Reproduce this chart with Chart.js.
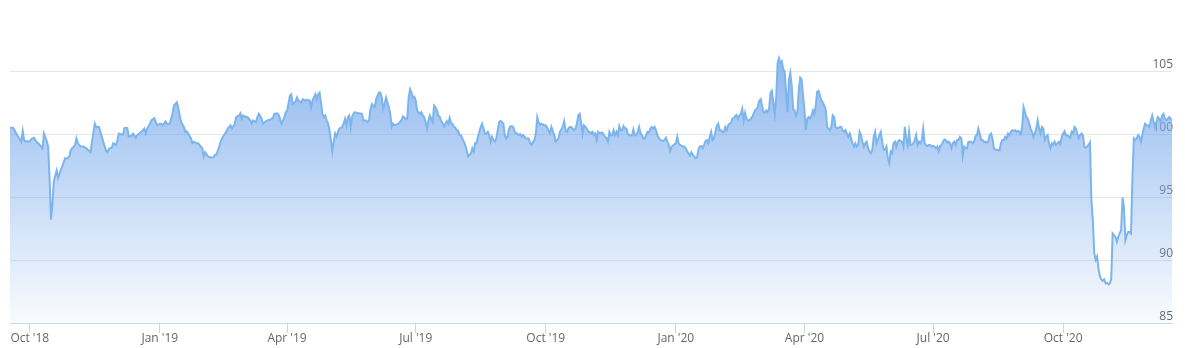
<!DOCTYPE html>
<html>
<head>
<meta charset="utf-8">
<script src="https://cdn.jsdelivr.net/npm/chart.js@4.4.1/dist/chart.umd.min.js"></script>
<style>
    html, body { margin: 0; padding: 0; background: #ffffff; }
    #wrap { width: 1185px; height: 348px; }
</style>
</head>
<body>
<div id="wrap"><canvas id="priceChart" width="1185" height="348"></canvas></div>
<script>
// Day offsets are counted from this date
const startDate = '2018-09-17';

const dayOffsets = [
    0,2,3,5,7,8,9,10,11,12,14,15,17,19,20,22,23,24,26,27,28,29,30,31,33,34,36,37,39,40,42,43,46,47,48,50,52,54,55,57,58,60,61,63,64,66,68,69,70,72,73,75,76,77,79,80,81,83,84,86,87,89,90,
    93,95,96,97,99,100,102,103,104,106,107,108,110,111,113,114,115,116,117,118,119,120,121,123,124,125,126,128,129,130,132,133,134,136,137,138,140,142,144,145,146,148,149,150,152,153,154,156,157,159,160,162,163,164,165,167,168,170,171,172,174,175,176,178,179,181,182,
    184,186,187,189,190,191,192,194,195,196,198,199,200,202,203,204,206,207,209,210,212,213,214,216,217,218,219,220,221,222,223,224,225,226,227,228,229,230,231,232,233,235,236,237,238,239,240,241,242,243,244,246,247,249,250,252,253,254,255,256,258,259,261,262,263,264,265,266,267,268,269,270,271,272,273,275,
    277,278,280,281,282,283,284,285,286,287,288,290,291,292,293,294,295,296,297,298,299,300,301,302,303,304,305,306,307,308,309,310,311,312,313,314,315,316,317,318,319,320,321,322,323,324,325,326,327,328,329,330,331,332,333,334,335,336,337,338,339,340,341,342,343,344,345,346,347,348,349,350,351,352,353,354,355,356,357,358,359,360,361,362,363,364,365,367,
    368,369,370,371,372,373,374,375,376,378,379,381,382,383,385,386,388,389,391,392,393,394,395,396,397,399,400,401,402,403,404,405,406,407,408,409,410,411,412,413,414,415,416,417,419,420,422,423,424,425,426,427,428,429,430,431,432,433,434,435,436,437,438,439,440,441,442,443,444,445,446,447,448,449,450,451,452,453,454,455,456,457,458,459,
    460,462,463,464,465,466,467,468,470,471,472,473,474,476,477,478,479,480,481,482,483,484,485,486,487,488,489,490,491,492,493,494,495,496,497,498,499,500,501,502,503,504,505,506,507,508,509,510,511,512,513,514,515,516,517,518,519,520,521,522,523,524,525,526,527,528,529,530,531,532,533,534,535,536,537,538,539,540,541,542,543,544,545,546,547,
    548,549,550,551,552,553,554,555,556,557,558,559,560,561,562,563,564,565,566,567,568,569,570,571,572,573,574,575,576,577,578,579,580,581,582,583,584,585,586,587,588,589,590,591,592,593,594,595,596,597,598,599,600,601,602,603,604,605,606,607,608,609,610,611,612,613,614,615,616,617,618,619,620,621,622,623,624,625,626,627,628,629,630,631,632,633,634,635,636,637,638,639,640,641,642,643,
    644,645,646,647,648,649,650,651,652,653,654,655,656,657,658,659,660,661,662,663,664,665,666,667,668,669,670,671,672,673,674,675,676,677,678,679,680,681,682,683,684,685,686,687,688,689,690,691,692,693,694,695,696,697,698,699,700,701,702,703,704,705,706,707,708,709,710,711,712,713,714,715,716,717,718,719,720,721,722,723,724,725,726,727,728,729,730,731,732,733,734,735,
    736,737,738,739,740,741,742,743,744,745,746,747,748,749,750,751,752,753,754,755,756,757,758,759,760,761,762,763,764,765,766,767,768,769,770,771,772,773,774,775,776,777,778,779,780,781,782,783,784,785,786,787,788,789,790,791,792,793,794,795,796,797,798,799,800,801,802,803,804,805,806,807,808,809,810,811,812,813,814,815,816,817,818,819,820,821,822
];

const prices = [
    100.49,100.52,100.36,99.92,99.61,99.40,100.26,99.53,99.40,99.45,99.40,99.61,99.71,99.34,99.27,99.01,98.88,100.05,99.45,99.01,96.50,93.20,94.45,96.27,97.11,96.53,97.19,97.45,98.09,98.05,98.23,98.75,99.14,99.66,99.27,99.01,99.01,98.88,98.75,98.56,99.40,100.83,100.57,100.57,100.18,99.40,98.67,98.56,98.83,98.93,99.27,99.14,99.53,100.05,99.97,99.97,100.49,100.49,99.79,99.87,100.05,99.71,99.92,
    100.18,100.44,100.05,100.44,100.83,101.09,101.27,101.02,100.70,100.83,100.83,100.70,101.02,100.83,100.83,101.22,101.61,102.27,102.39,102.52,102.13,101.48,100.96,100.57,100.18,100.23,100.05,99.66,99.27,99.40,99.27,99.27,99.14,98.88,98.23,98.56,98.23,98.15,98.17,98.36,98.36,99.01,99.40,99.66,100.05,100.18,100.44,100.70,100.44,100.83,101.35,101.48,101.66,101.22,101.48,101.35,101.35,101.09,100.83,101.09,100.96,101.35,101.61,101.22,100.83,101.02,101.09,
    101.14,101.30,101.61,101.66,101.56,101.22,100.83,101.30,101.74,101.82,103.05,103.17,102.39,102.60,102.91,102.66,102.52,102.78,102.66,102.73,102.66,102.13,102.66,103.17,102.78,103.17,103.30,102.52,101.61,101.35,101.48,101.09,100.83,100.31,99.53,98.62,99.40,100.05,99.79,100.18,100.44,100.57,100.83,101.22,100.70,101.35,101.48,100.57,101.35,101.61,101.74,101.66,101.66,101.61,101.09,101.09,100.96,101.09,102.00,102.39,102.13,102.78,103.30,103.30,102.91,102.00,102.39,102.91,102.52,102.13,101.61,100.57,100.83,100.70,100.75,100.83,
    101.14,101.41,101.22,101.22,102.91,103.56,103.30,102.91,102.97,102.66,101.88,101.61,101.74,101.48,101.35,100.96,100.44,101.09,101.48,101.22,100.96,102.27,102.13,101.88,101.48,101.35,101.04,100.88,100.63,100.83,101.04,100.83,101.30,100.88,100.83,100.57,100.52,100.31,100.26,99.92,99.92,99.66,99.40,99.14,98.75,98.23,98.36,98.44,98.88,98.62,99.27,99.27,99.79,100.18,100.57,100.83,100.44,100.05,100.05,100.18,99.92,99.40,99.79,99.53,99.40,99.66,100.31,100.96,101.04,100.96,100.83,99.92,99.66,99.79,100.44,100.63,100.63,100.57,100.18,100.05,100.05,99.92,100.00,99.79,99.92,99.79,99.66,99.66,
    99.27,99.14,99.40,99.53,100.05,101.35,100.91,100.75,100.83,100.70,100.70,100.31,100.05,100.57,99.92,99.40,99.66,100.18,100.57,101.02,100.31,100.18,100.44,100.57,100.57,100.31,100.44,100.83,101.48,101.61,100.96,100.05,100.70,100.57,100.44,100.18,100.18,100.05,100.18,99.92,100.05,99.53,100.18,100.05,100.13,99.92,99.66,99.40,100.18,99.92,99.92,100.31,99.92,100.18,99.92,100.65,100.31,100.31,100.65,100.44,100.44,100.05,99.92,99.92,99.92,100.39,99.92,99.92,100.18,100.57,100.05,99.92,99.66,99.66,99.92,100.18,100.13,100.44,100.57,100.44,100.57,100.31,99.92,99.71,
    99.53,99.45,99.53,99.71,99.40,99.14,98.67,99.01,99.19,99.27,99.79,99.27,99.14,99.01,99.01,98.88,98.62,98.48,98.30,98.56,98.36,98.23,98.09,98.15,98.75,99.01,99.06,98.88,99.14,99.45,99.53,99.27,99.79,100.18,99.53,99.66,100.18,100.65,100.83,100.31,100.31,100.18,100.18,100.57,100.31,100.70,100.83,100.88,101.22,101.27,101.43,101.53,101.22,101.48,101.61,102.00,101.09,101.69,101.22,101.09,101.09,101.22,101.35,101.61,101.88,102.00,102.13,102.66,102.78,102.27,101.74,101.69,101.88,101.74,102.00,103.30,103.44,102.52,101.61,102.91,105.65,106.04,105.65,105.78,105.13,
    105.00,103.30,101.74,104.34,104.87,103.83,102.00,101.88,101.48,101.74,103.56,104.48,104.34,103.05,101.88,100.31,101.22,101.35,101.22,101.48,101.88,101.61,102.27,103.36,103.44,103.05,102.66,102.52,102.27,102.00,100.57,100.44,100.31,100.57,101.48,101.35,100.57,100.49,100.49,100.57,100.57,100.31,100.18,100.31,100.05,99.79,100.05,99.66,99.27,99.01,99.27,99.01,99.14,100.18,99.92,99.40,99.01,99.27,99.40,98.88,98.62,98.48,98.75,99.79,100.18,99.27,99.53,99.92,100.18,99.40,98.75,98.75,99.01,98.09,97.70,98.62,98.48,99.27,99.40,99.01,99.40,99.53,99.45,99.40,99.01,100.57,99.66,99.14,100.18,99.14,99.14,99.27,99.53,99.92,99.14,99.40,
    99.27,99.53,100.44,99.27,99.14,99.06,99.14,99.14,99.01,99.06,99.01,98.88,99.01,98.62,99.06,99.14,99.40,99.58,99.53,99.32,99.40,99.27,98.88,99.27,99.40,99.14,99.53,99.53,99.79,99.66,98.28,99.01,98.88,98.88,99.40,99.40,99.40,99.27,99.40,99.84,99.92,100.44,100.05,99.53,99.53,99.40,99.40,99.32,99.40,99.92,100.05,99.66,98.88,98.75,98.75,98.75,98.70,99.27,99.53,99.53,99.79,99.66,100.05,99.92,100.18,100.31,100.26,100.31,100.18,100.26,100.18,100.00,100.57,102.13,101.74,101.35,101.22,100.83,100.44,100.18,99.79,100.05,100.44,101.09,100.44,100.05,100.57,100.44,99.53,99.79,99.92,99.27,
    98.88,99.27,99.14,99.40,99.14,99.27,99.40,99.19,99.79,100.05,100.23,99.92,99.92,99.79,99.71,100.18,100.05,100.57,100.44,100.05,99.66,99.92,100.05,99.92,99.01,98.93,99.01,99.14,99.34,94.71,93.15,90.55,90.02,90.28,89.30,88.70,88.46,88.33,88.46,88.15,88.20,88.07,88.15,88.46,92.11,91.98,91.84,91.45,91.84,92.11,92.37,94.97,94.19,91.59,91.98,92.23,92.23,92.11,96.50,99.66,99.53,99.66,99.92,99.79,99.40,99.92,100.44,100.83,100.70,100.70,100.57,101.09,101.48,100.96,100.57,100.96,101.35,101.22,100.96,101.48,101.61,101.22,101.09,101.22,101.35,101.22,101.09
];

const tickDates = ['2018-10-01', '2019-01-01', '2019-04-01', '2019-07-01', '2019-10-01',
                   '2020-01-01', '2020-04-01', '2020-07-01', '2020-10-01'];
const tickLabels = ["Oct '18", "Jan '19", "Apr '19", "Jul '19", "Oct '19",
                    "Jan '20", "Apr '20", "Jul '20", "Oct '20"];
const yMin = 85;
const yMax = 110;
const yStep = 5;
const lastDay = 822;

// days between startDate and a date string
function dayOf(dateStr) {
    return Math.round((Date.parse(dateStr) - Date.parse(startDate)) / 86400000);
}

const tickDays = tickDates.map(dayOf);
const points = dayOffsets.map((d, i) => ({ x: d, y: prices[i] }));

Chart.defaults.font.family = "'Open Sans', sans-serif";
Chart.defaults.font.size = 12;
Chart.defaults.color = '#666666';

const ctx = document.getElementById('priceChart').getContext('2d');
new Chart(ctx, {
    type: 'line',
    data: {
        datasets: [{
            data: points,
            borderColor: '#7cb5ec',
            borderWidth: 2,
            pointRadius: 0,
            tension: 0,
            fill: 'start',
            backgroundColor: function (context) {
                const area = context.chart.chartArea;
                if (!area) return 'rgba(124,172,236,0.5)';
                const g = context.chart.ctx.createLinearGradient(0, area.top, 0, area.bottom);
                g.addColorStop(0, 'rgba(124,172,236,1)');
                g.addColorStop(1, 'rgba(124,172,236,0.04)');
                return g;
            }
        }]
    },
    options: {
        responsive: false,
        animation: false,
        layout: { padding: { left: 10, right: 11, top: 3, bottom: 3 } },
        plugins: {
            legend: { display: false },
            tooltip: { enabled: false }
        },
        scales: {
            x: {
                type: 'linear',
                min: 0,
                max: lastDay,
                afterBuildTicks: function (scale) {
                    scale.ticks = tickDays.map(v => ({ value: v }));
                },
                ticks: {
                    autoSkip: false,
                    maxRotation: 0,
                    padding: 0,
                    font: { size: 12, lineHeight: 1 },
                    callback: function (value) {
                        const i = tickDays.indexOf(value);
                        return i >= 0 ? tickLabels[i] : '';
                    }
                },
                grid: {
                    drawOnChartArea: false,
                    drawTicks: true,
                    tickLength: 10,
                    color: '#ccd6eb'
                },
                border: { display: true, color: '#ccd6eb', width: 1 }
            },
            y: {
                position: 'right',
                min: yMin,
                max: yMax,
                ticks: {
                    stepSize: yStep,
                    mirror: true,
                    padding: 1,
                    labelOffset: -6.5,
                    callback: function (value) {
                        return value === yMax ? null : value;
                    }
                },
                grid: { color: '#e6e6e6', drawTicks: false },
                border: { display: false }
            }
        }
    }
});
</script>
</body>
</html>
